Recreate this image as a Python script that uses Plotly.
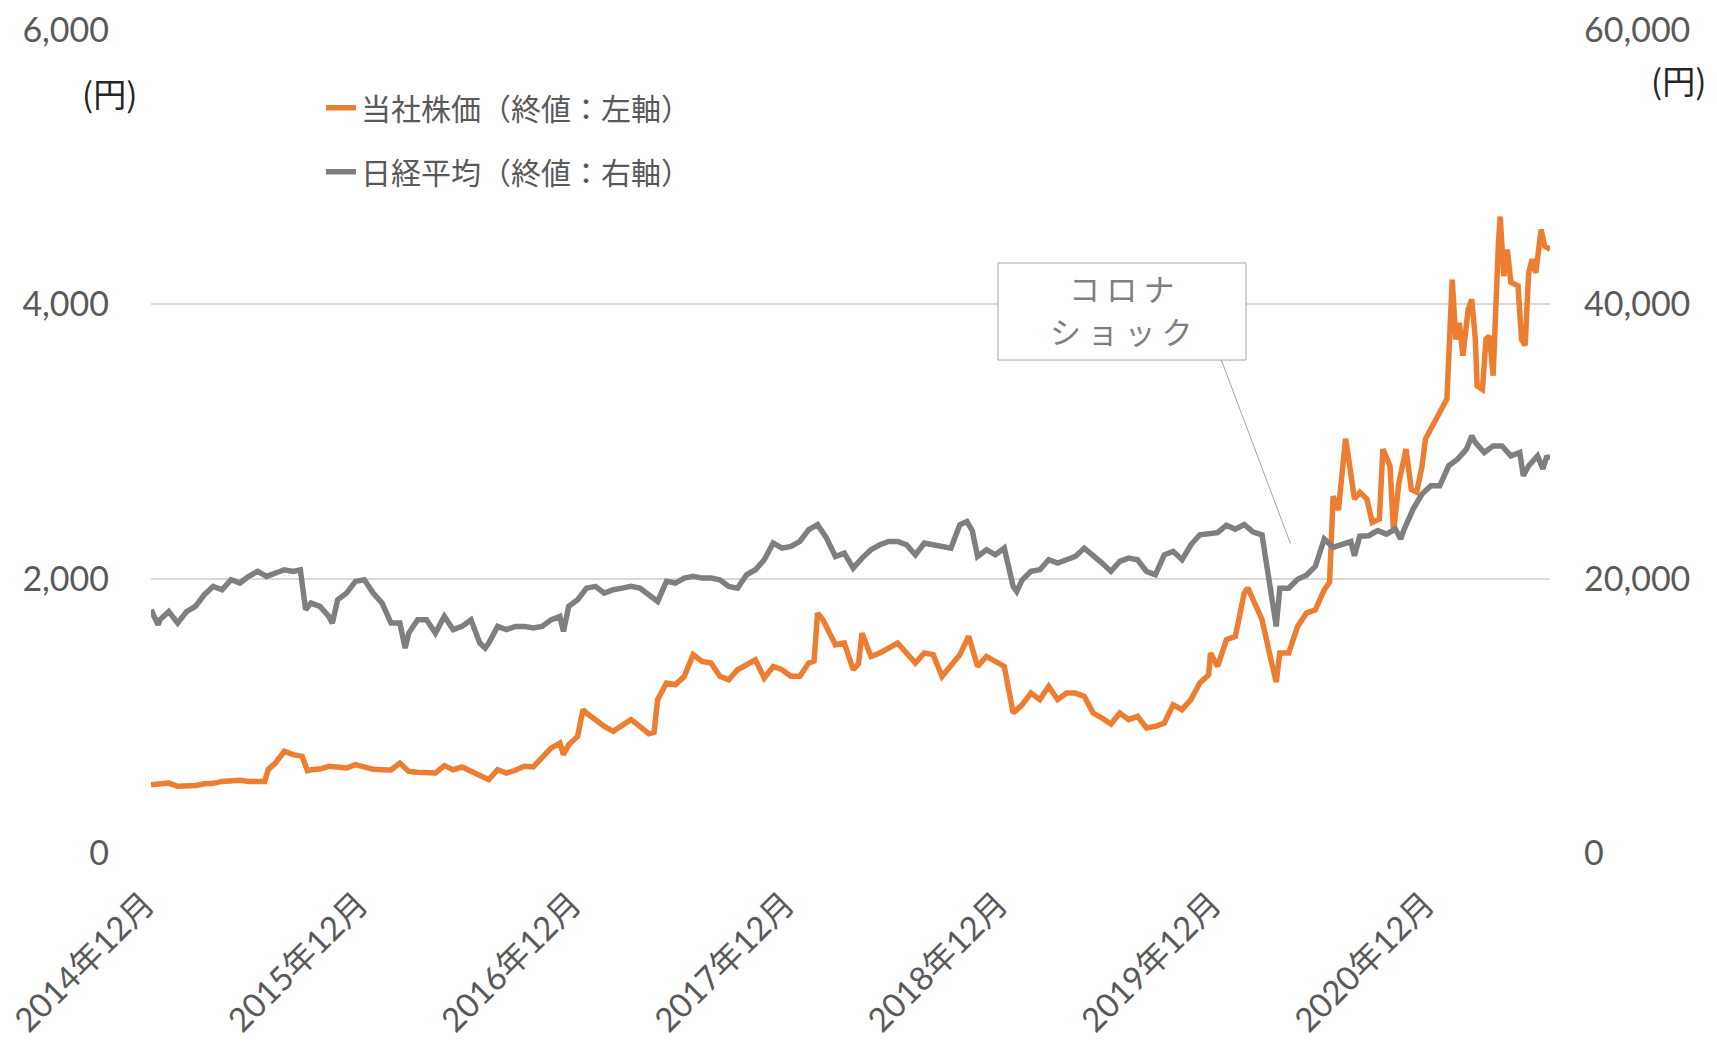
import plotly.graph_objects as go

# x = months elapsed since 2014年12月 (first trading day)
months_stock = [0, 0.5, 1, 1.5, 2, 2.5, 3, 3.5, 4, 4.5, 5, 5.5, 6, 6.4, 6.6, 7, 7.5, 8, 8.5, 8.8,
                9, 9.5, 10, 10.5, 11, 11.5, 12, 12.5, 13, 13.5, 14, 14.5, 15, 15.5, 16, 16.5, 17, 17.5,
                18, 18.5, 19, 19.5, 20, 20.5, 21, 21.5, 22, 22.5, 23, 23.2, 23.5, 24, 24.3, 24.5, 25,
                25.5, 26, 26.5, 27, 27.5, 28, 28.3, 28.5, 29, 29.5, 30, 30.5, 31, 31.5, 32, 32.5, 33,
                33.5, 34, 34.5, 35, 35.5, 36, 36.5, 37, 37.3, 37.5, 37.8, 38, 38.5, 39, 39.5, 39.8, 40,
                40.5, 41, 41.5, 42, 42.5, 43, 43.5, 44, 44.5, 45, 45.5, 46, 46.5, 47, 47.5, 48, 48.5,
                49, 49.5, 50, 50.5, 51, 51.5, 52, 52.5, 53, 53.5, 54, 54.5, 55, 55.5, 56, 56.5, 57,
                57.5, 58, 58.5, 59, 59.5, 59.6, 60, 60.5, 61, 61.5, 61.7, 62, 62.5, 63, 63.3, 63.5, 64,
                64.5, 65, 65.5, 66, 66.3, 66.5, 66.8, 67, 67.2, 67.4, 67.7, 68, 68.4, 68.7, 69.1, 69.3,
                69.7, 69.9, 70.2, 70.6, 70.9, 71.2, 71.5, 71.7, 72.1, 72.5, 72.9, 73.2, 73.4, 73.6,
                73.8, 74.1, 74.3, 74.5, 74.6, 74.9, 75.1, 75.3, 75.5, 75.8, 75.9, 76.1, 76.3, 76.5,
                76.9, 77.1, 77.3, 77.5, 77.7, 77.9, 78.2, 78.4, 78.7]
stock_close = [498, 505, 510, 486, 488, 492, 505, 508, 522, 525, 530, 522, 524, 522, 610, 656, 741, 717, 705, 600,
               607, 612, 632, 627, 620, 644, 627, 610, 607, 605, 656, 595, 588, 590, 583, 637, 607, 627,
               595, 559, 535, 607, 583, 603, 632, 627, 692, 765, 802, 717, 790, 850, 1045, 1020, 972,
               923, 887, 935, 972, 923, 870, 880, 1118, 1239, 1227, 1288, 1446, 1397, 1385, 1288, 1263, 1336,
               1373, 1409, 1276, 1360, 1336, 1288, 1288, 1385, 1400, 1749, 1700, 1652, 1518, 1531, 1336, 1380, 1603,
               1433, 1458, 1494, 1531, 1458, 1385, 1458, 1446, 1288, 1360, 1446, 1580, 1360, 1433, 1397, 1360, 1020,
               1080, 1166, 1118, 1215, 1118, 1166, 1166, 1142, 1020, 984, 940, 1020, 972, 996, 911, 923, 947,
               1081, 1045, 1118, 1239, 1300, 1458, 1360, 1555, 1579, 1895, 1932, 1846, 1701, 1409, 1245, 1458, 1458,
               1652, 1749, 1773, 1919, 1975, 2600, 2500, 2820, 3020, 2850, 2580, 2630, 2580, 2410, 2435, 2945,
               2820, 2340, 2700, 2945, 2650, 2630, 2820, 3020, 3115, 3210, 3310, 4180, 3745, 3865,
               3625, 3965, 4035, 3745, 3405, 3380, 3745, 3770, 3480, 4450, 4640, 4205, 4400, 4160,
               4135, 3745, 3700, 4230, 4330, 4230, 4545, 4425, 4400]

months_nikkei = [0, 0.4, 0.5, 1, 1.5, 2, 2.5, 3, 3.5, 4, 4.5, 5, 5.5, 6, 6.5, 7, 7.5, 8, 8.4, 8.7,
                 9, 9.5, 10, 10.2, 10.5, 11, 11.5, 12, 12.5, 13, 13.5, 14, 14.3, 14.5, 15, 15.5, 16, 16.5,
                 17, 17.5, 18, 18.5, 18.8, 19, 19.5, 20, 20.5, 21, 21.5, 22, 22.5, 23, 23.2, 23.5, 24,
                 24.5, 25, 25.5, 26, 26.5, 27, 27.5, 28, 28.5, 29, 29.5, 30, 30.5, 31, 31.5, 32, 32.5,
                 33, 33.5, 34, 34.5, 35, 35.5, 36, 36.5, 37, 37.5, 38, 38.5, 39, 39.5, 40, 40.5, 41,
                 41.5, 42, 42.5, 43, 43.5, 44, 44.5, 45, 45.5, 45.9, 46.2, 46.5, 47, 47.5, 48, 48.5,
                 48.7, 49, 49.5, 50, 50.5, 51, 51.5, 52, 52.5, 53, 53.5, 54, 54.5, 55, 55.5, 56, 56.5,
                 57, 57.5, 58, 58.5, 59, 59.5, 60, 60.5, 61, 61.5, 62, 62.5, 63, 63.3, 63.5, 64, 64.5,
                 65, 65.5, 66, 66.5, 67, 67.5, 67.7, 68, 68.5, 69, 69.5, 70, 70.3, 70.5, 71, 71.5, 72,
                 72.5, 73, 73.5, 74, 74.3, 74.5, 75, 75.5, 76, 76.5, 77, 77.2, 77.5, 78, 78.3, 78.5, 78.7]
nikkei_close = [17735, 16640, 17000, 17600, 16760, 17600, 17980, 18830, 19440, 19190, 19920, 19680, 20165, 20530, 20165, 20410, 20650, 20530, 20650, 17735,
                18220, 17980, 17250, 16760, 18460, 18950, 19800, 19920, 18950, 18220, 16760, 16760, 14940, 16035, 17000, 17000, 16035, 17250,
                16280, 16520, 17000, 15300, 14940, 15300, 16520, 16280, 16520, 16520, 16400, 16520, 17000, 17250, 16155, 17980, 18460,
                19310, 19440, 18950, 19190, 19310, 19440, 19310, 18830, 18340, 19800, 19680, 20040, 20165, 20040, 20040, 19920, 19440,
                19310, 20285, 20650, 21380, 22595, 22230, 22350, 22715, 23570, 23930, 22960, 21620, 21865, 20770, 21500, 22110, 22470,
                22715, 22715, 22470, 21740, 22595, 22470, 22350, 22230, 23930, 24170, 23500, 21620, 22110, 21740, 22230, 19440,
                19070, 19900, 20530, 20650, 21380, 21135, 21380, 21620, 22230, 21740, 21135, 20530, 21260, 21500, 21380, 20530, 20285,
                21740, 21990, 21380, 22470, 23200, 23250, 23350, 23900, 23600, 23950, 23400, 23200, 19000, 16520, 19300, 19300, 19950,
                20250, 20900, 22900, 22280, 22500, 22700, 21670, 23100, 23130, 23500, 23250, 23620, 22890, 23620, 25070, 26170, 26770,
                26770, 28230, 28710, 29440, 30410, 29930, 29200, 29680, 29680, 28950, 29200, 27500, 28230, 28950, 28000, 28830, 28900]

tick_months = [0, 12, 24, 36, 48, 60, 72]
tick_labels = ["2014年12月", "2015年12月", "2016年12月", "2017年12月",
               "2018年12月", "2019年12月", "2020年12月"]
left_ticks = [0, 2000, 4000, 6000]
right_ticks = [0, 20000, 40000, 60000]

# callout: two text lines, box corners (paper) and leader line endpoints (month, left-axis value)
callout_lines = ["コ\u2009ロ\u2009ナ", "シ\u2009ョ\u2009ッ\u2009ク"]
callout_line_y = [0.6877, 0.6343]
callout_box = (0.6054, 0.599, 0.7827, 0.7169)
leader_from = (60.2, 3598)
leader_to = (64.1, 2256)

NUM_FONT = "Lato, Noto Sans CJK JP, sans-serif"
JP_FONT = "Noto Sans CJK JP, sans-serif"
TXT = "#595959"
PAD = "\u00a0"

fig = go.Figure()
fig.add_trace(go.Scatter(x=months_stock, y=stock_close, mode="lines",
                         name="当社株価（終値：左軸）", legendgroup="a",
                         line=dict(color="#ED7D31", width=5.5), yaxis="y"))
fig.add_trace(go.Scatter(x=months_nikkei, y=nikkei_close, mode="lines",
                         name="日経平均（終値：右軸）", legendgroup="b",
                         line=dict(color="#7F7F7F", width=5.5), yaxis="y2"))

fig.update_layout(
    template="none",
    width=1717, height=1043,
    margin=dict(l=151, r=167, t=30, b=190, autoexpand=False),
    paper_bgcolor="white", plot_bgcolor="white",
    showlegend=True,
    legend=dict(x=0.1215, y=0.937, xanchor="left", yanchor="top",
                font=dict(family=JP_FONT, size=30, color=TXT),
                bgcolor="rgba(0,0,0,0)", borderwidth=0, tracegroupgap=22),
    xaxis=dict(range=[0, 78.7], tickmode="array", tickvals=tick_months,
               ticktext=[t + PAD for t in tick_labels], automargin=False,
               tickangle=-45, showgrid=False, zeroline=False, showline=False, ticks="",
               ticklabeloverflow="allow",
               tickfont=dict(family=NUM_FONT, size=33, color=TXT), ticklabelstandoff=18),
    yaxis=dict(range=[0, 6000], tickmode="array", tickvals=left_ticks, tickformat=",d",
               automargin=False,
               showgrid=True, gridcolor="#D9D9D9", gridwidth=2, zeroline=False, showline=False,
               ticks="", tickfont=dict(family=NUM_FONT, size=34, color=TXT), ticklabelstandoff=41),
    yaxis2=dict(range=[0, 60000], tickmode="array", tickvals=right_ticks, tickformat=",d",
                automargin=False,
                overlaying="y", side="right", showgrid=False, zeroline=False, showline=False,
                ticks="", tickfont=dict(family=NUM_FONT, size=34, color=TXT), ticklabelstandoff=33),
)

fig.add_annotation(text="(円)", xref="paper", yref="paper", x=-0.0297, y=0.9234,
                   xanchor="center", yanchor="middle",
                   showarrow=False, font=dict(family=JP_FONT, size=33, color="#262626"))
fig.add_annotation(text="(円)", xref="paper", yref="paper", x=1.0922, y=0.939,
                   xanchor="center", yanchor="middle",
                   showarrow=False, font=dict(family=JP_FONT, size=33, color="#262626"))

fig.add_shape(type="line", xref="x", yref="y",
              x0=leader_from[0], y0=leader_from[1], x1=leader_to[0], y1=leader_to[1],
              line=dict(color="#A6A6A6", width=1))
fig.add_shape(type="rect", xref="paper", yref="paper",
              x0=callout_box[0], y0=callout_box[1], x1=callout_box[2], y1=callout_box[3],
              line=dict(color="#A6A6A6", width=1), fillcolor="white", layer="above")
for line_text, ly in zip(callout_lines, callout_line_y):
    fig.add_annotation(text=line_text, xref="paper", yref="paper", x=0.694, y=ly,
                       xanchor="center", yanchor="middle", showarrow=False,
                       font=dict(family=JP_FONT, size=31, color="#7F7F7F"))

fig.write_html("out.html", config={"displayModeBar": False},
               post_script="document.body.style.margin='0';document.body.style.overflow='hidden';")
